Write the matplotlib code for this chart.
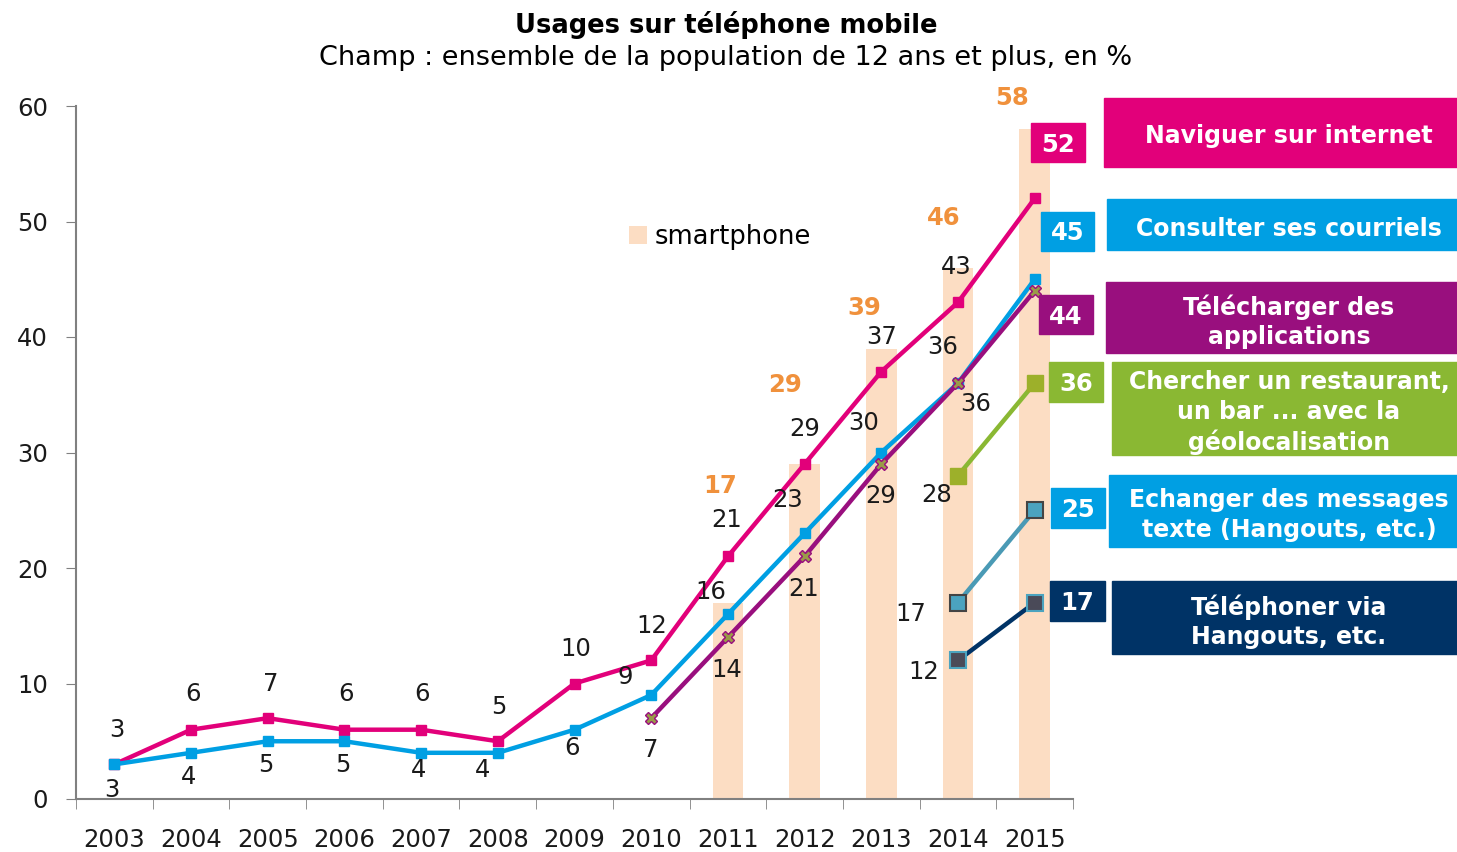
import numpy as np
import matplotlib
matplotlib.use('Agg')
from matplotlib import pyplot as plt
from matplotlib.patches import Rectangle

years = ['2003', '2004', '2005', '2006', '2007', '2008', '2009',
         '2010', '2011', '2012', '2013', '2014', '2015']
nan = np.nan
smartphone = [nan, nan, nan, nan, nan, nan, nan, nan, 17, 29, 39, 46, 58]
internet = [3, 6, 7, 6, 6, 5, 10, 12, 21, 29, 37, 43, 52]
courriels = [3, 4, 5, 5, 4, 4, 6, 9, 16, 23, 30, 36, 45]
applis = [nan, nan, nan, nan, nan, nan, nan, 7, 14, 21, 29, 36, 44]
geoloc = [nan] * 11 + [28, 36]
messages = [nan] * 11 + [17, 25]
telephoner = [nan] * 11 + [12, 17]

box_labels = ['Naviguer sur internet', 'Consulter ses courriels',
              'Télécharger des\napplications',
              'Chercher un restaurant,\nun bar ... avec la\ngéolocalisation',
              'Echanger des messages\ntexte (Hangouts, etc.)',
              'Téléphoner via\nHangouts, etc.']
box_values = [52, 45, 44, 36, 25, 17]

pink = '#E2007A'
blue = '#009FE3'
purple = '#990F7E'
green = '#8AB833'
teal = '#4A9AB5'
navy = '#003366'
peach = '#FCDDC3'
orange = '#F0913C'

W, H = 1457, 852
fig = plt.figure(figsize=(W / 100, H / 100), dpi=100)
ax = fig.add_axes([76 / W, 1 - 799 / H, 997 / W, 693 / H])

x = np.arange(len(years))
ax.bar(x, smartphone, width=0.4, color=peach, label='smartphone', zorder=1)

def series(vals, color, **kw):
    ax.plot(x, np.array(vals, dtype=float), color=color, lw=3.2, zorder=3, **kw)

series(internet, pink, marker='s', ms=6.5, mfc=pink, mec=pink)
series(courriels, blue, marker='s', ms=6.5, mfc=blue, mec=blue)
series(applis, purple, marker='X', ms=8, mfc='#9a9a48', mec=purple, mew=1)
series(geoloc, green, marker='s', ms=11, mfc='#9DB02A', mec='#9DB02A')
series(messages, teal, marker='s', ms=11, mfc='#4BA3BF', mec='#444444', mew=1.5)
series(telephoner, navy, marker='s', ms=11, mfc='#4a4a58', mec='#4BA3BF', mew=1.5)

# data labels: (series values, pixel offsets)
lab_kw = dict(textcoords='offset pixels', ha='center', va='center',
              fontsize=17.5, color='#1a1a1a', zorder=5)
internet_off = [(3, 34), (2, 36), (3, 34), (2, 36), (1, 36), (1, 34), (1, 35),
                (0, 34), (-1, 36), (0, 35), (0, 35), (-2, 35)]
courriels_off = [(-2, -26), (-2, -24), (-2, -24), (-2, -24), (-3, -17),
                 (-15, -17), (-2, -18), (-26, 18), (-17, 22), (-17, 33),
                 (-18, 30), (-15, 36)]
applis_off = {7: (0, -32), 8: (-1, -33), 9: (-1, -33), 10: (-1, -32), 11: (18, -21)}
for i, off in enumerate(internet_off):
    ax.annotate(str(internet[i]), (x[i], internet[i]), xytext=off, **lab_kw)
for i, off in enumerate(courriels_off):
    ax.annotate(str(courriels[i]), (x[i], courriels[i]), xytext=off, **lab_kw)
for i, off in applis_off.items():
    ax.annotate(str(applis[i]), (x[i], applis[i]), xytext=off, **lab_kw)
ax.annotate(str(geoloc[11]), (x[11], geoloc[11]), xytext=(-21, -19), **lab_kw)
ax.annotate(str(messages[11]), (x[11], messages[11]), xytext=(-47, -11), **lab_kw)
ax.annotate(str(telephoner[11]), (x[11], telephoner[11]), xytext=(-34, -12), **lab_kw)

smart_off = {8: (-8, 117), 9: (-20, 79), 10: (-17, 41), 11: (-14, 50), 12: (-23, 31)}
for i, off in smart_off.items():
    ax.annotate(str(smartphone[i]), (x[i], smartphone[i]), xytext=off,
                textcoords='offset pixels', ha='center', va='center',
                fontsize=17.5, fontweight='bold', color=orange, zorder=5,
                annotation_clip=False)

ax.set_xlim(-0.5, len(years) - 0.5)
ax.set_ylim(0, 60)
ax.set_yticks(range(0, 61, 10))
ax.set_xticks(x)
ax.set_xticklabels(years)
ax.set_xticks(np.arange(-0.5, len(years), 1), minor=True)
ax.tick_params(axis='x', which='major', length=0, pad=21, labelsize=17.5, labelcolor='#1a1a1a')
ax.tick_params(axis='x', which='minor', length=7, color='#808080', direction='out')
ax.tick_params(axis='y', length=7, color='#808080', pad=13, labelsize=17.5, labelcolor='#1a1a1a')
for s in ['top', 'right']:
    ax.spines[s].set_visible(False)
for s in ['left', 'bottom']:
    ax.spines[s].set_color('#808080')
    ax.spines[s].set_linewidth(1.5)

ax.legend(loc='center left', bbox_to_anchor=((616 - 76) / 997, (799 - 237) / 693),
          frameon=False, fontsize=18.5, handlelength=0.7, handleheight=0.7,
          handletextpad=0.3, borderpad=0)

fig.text(726 / W, 1 - 25 / H, 'Usages sur téléphone mobile', ha='center', va='center',
         fontsize=18.5, fontweight='bold')
fig.text(726 / W, 1 - 58 / H, 'Champ : ensemble de la population de 12 ans et plus, en %',
         ha='center', va='center', fontsize=19.5)

# right-hand boxes
box_colors = [pink, blue, purple, green, blue, navy]
val_rects = [(1031, 1085, 123, 162), (1041, 1094, 212, 251), (1039, 1093, 295, 334),
             (1049, 1103, 362, 402), (1051, 1105, 488, 528), (1050, 1105, 581, 621)]
lab_rects = [(1104, 1457, 98, 167), (1107, 1457, 199, 250), (1106, 1457, 282, 353),
             (1112, 1457, 362, 455), (1109, 1457, 475, 547), (1112, 1457, 581, 654)]

def add_box(r, color):
    x0, x1, y0, y1 = r
    fig.add_artist(Rectangle((x0 / W, 1 - y1 / H), (x1 - x0) / W, (y1 - y0) / H,
                             transform=fig.transFigure, color=color, zorder=6))

for lab, val, col, vr, lr in zip(box_labels, box_values, box_colors, val_rects, lab_rects):
    add_box(vr, col)
    add_box(lr, col)
    fig.text((vr[0] + vr[1]) / 2 / W, 1 - (vr[2] + vr[3] + 4) / 2 / H, str(val),
             ha='center', va='center', fontsize=17.5, fontweight='bold', color='white', zorder=7)
    fig.text(1289 / W, 1 - ((lr[2] + lr[3]) / 2 + 4) / H, lab, ha='center', va='center',
             fontsize=17, fontweight='bold', color='white', zorder=7, linespacing=1.27)

fig.savefig('out.png', dpi=100)
